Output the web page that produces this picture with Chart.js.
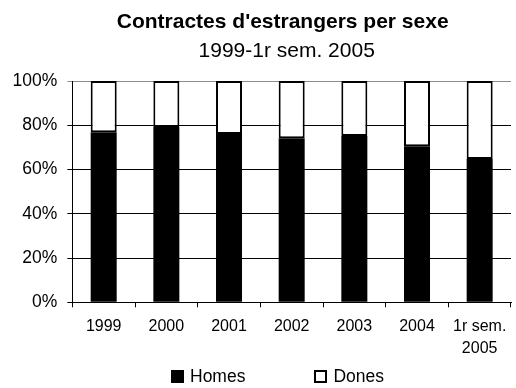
<!DOCTYPE html>
<html>
<head>
<meta charset="utf-8">
<script src="https://cdn.jsdelivr.net/npm/chart.js@4/dist/chart.umd.min.js"></script>
<style>
  body { margin: 0; background: #fff; }
  .wrap { position: relative; width: 516px; height: 388px; }
  #legend {
    position: absolute; left: 171px; top: 366px;
    display: flex; gap: 69px;
    font-family: 'Liberation Sans', Arial, sans-serif; font-size: 17.5px; line-height: 20px; color: #000;
  }
  #legend .item { display: flex; align-items: center; }
  #legend .box { width: 13px; height: 13px; box-sizing: border-box; margin-right: 6px; }
</style>
</head>
<body>
<div class="wrap">
  <canvas id="chart" width="516" height="388"></canvas>
  <div id="legend"></div>
</div>
<script>
// values (percent of contracts)
const categories = ['1999', '2000', '2001', '2002', '2003', '2004', ['1r sem.', '2005']]
const homes = [76.8, 79.2, 76.1, 74.1, 75.2, 70.5, 64.8]
const dones = [23.2, 20.8, 23.9, 25.9, 24.8, 29.5, 35.2]
const yStep = 20

Chart.defaults.font.family = "'Liberation Sans', Arial, sans-serif"
Chart.defaults.color = '#000'
Chart.defaults.borderColor = '#000'

// html legend built from the datasets
const htmlLegend = {
  id: 'htmlLegend',
  afterUpdate(chart) {
    let el = document.getElementById('legend')
    el.innerHTML = ''
    chart.data.datasets.forEach(function (ds) {
      let item = document.createElement('span')
      item.className = 'item'
      let box = document.createElement('span')
      box.className = 'box'
      box.style.background = ds.backgroundColor
      box.style.border = '2px solid ' + ds.borderColor
      item.appendChild(box)
      item.appendChild(document.createTextNode(ds.label))
      el.appendChild(item)
    })
  }
}

// nudge the (sub)title a little left of the plot centre, like the original
const titleShift = {
  id: 'titleShift',
  afterLayout(chart) {
    chart.boxes.forEach(function (b) {
      if (!b.options || typeof b.options.text !== 'string') return
      if (b.options.font && b.options.font.weight === 'bold') b.right -= 18
      else b.right -= 10
    })
  }
}

new Chart(document.getElementById('chart'), {
  type: 'bar',
  data: {
    labels: categories,
    datasets: [
      {
        label: 'Homes',
        data: homes,
        backgroundColor: '#000',
        borderColor: '#000',
        borderWidth: 0
      },
      {
        label: 'Dones',
        data: dones,
        backgroundColor: '#fff',
        borderColor: '#000',
        borderWidth: 2,
        borderSkipped: false
      }
    ]
  },
  options: {
    responsive: false,
    animation: false,
    devicePixelRatio: 1,
    categoryPercentage: 0.415,
    barPercentage: 1,
    layout: { padding: { left: 2.6, right: 5, top: 0, bottom: 19.8 } },
    plugins: {
      legend: { display: false },
      tooltip: { enabled: false },
      title: {
        display: true,
        text: "Contractes d'estrangers per sexe",
        fullSize: false,
        font: { size: 21, weight: 'bold' },
        padding: { top: 10, bottom: 0 }
      },
      subtitle: {
        display: true,
        text: '1999-1r sem. 2005',
        fullSize: false,
        color: '#000',
        font: { size: 21 },
        padding: { top: 3, bottom: 17.6 }
      }
    },
    scales: {
      x: {
        stacked: true,
        grid: {
          display: true,
          offset: true,
          drawOnChartArea: false,
          drawTicks: true,
          color: '#000',
          lineWidth: 1,
          tickLength: 5
        },
        ticks: { font: { size: 16, lineHeight: 1.34 }, padding: 9, maxRotation: 0 }
      },
      y: {
        stacked: true,
        min: 0,
        max: 100,
        grid: {
          display: true,
          drawOnChartArea: true,
          drawTicks: true,
          color: ctx => (ctx.tick && ctx.tick.value === 100 ? '#8c8c8c' : '#000'),
          lineWidth: 1,
          tickLength: 5
        },
        ticks: {
          stepSize: yStep,
          font: { size: 17.5 },
          padding: 10,
          callback: v => v + '%'
        }
      }
    }
  },
  plugins: [htmlLegend, titleShift]
})
</script>
</body>
</html>
